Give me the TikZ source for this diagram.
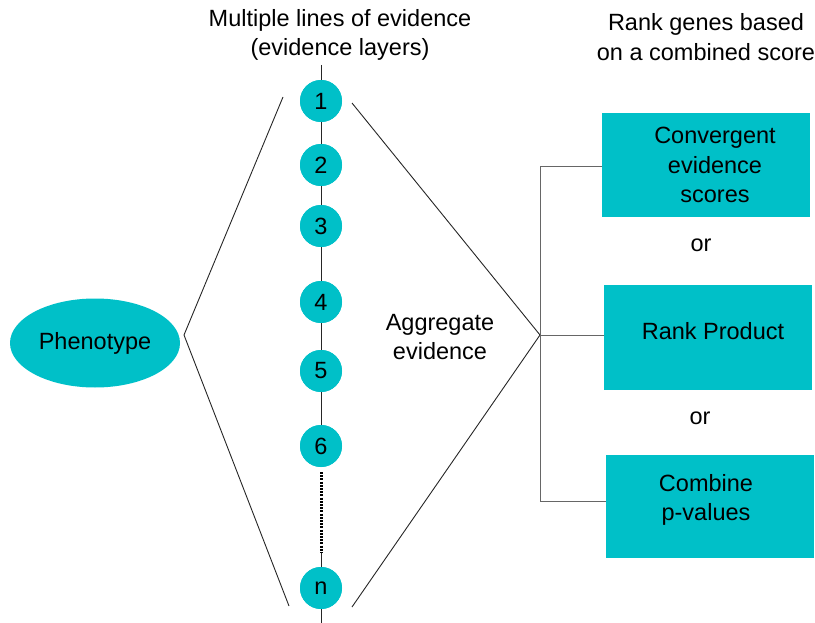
\documentclass[tikz,border=0pt]{standalone}
\usepackage{fontspec}
\setmainfont{Liberation Sans}
\usetikzlibrary{shapes.geometric}
\definecolor{teal1}{HTML}{00C0C8}
\begin{document}
\begin{tikzpicture}[x=1pt,y=-1pt,
  txt/.style={font=\fontsize{23.5}{29.5}\selectfont, align=center, inner sep=0pt},
  layer/.style={circle, fill=teal1, minimum size=42pt, inner sep=0pt, font=\fontsize{23.5}{28}\selectfont},
  method/.style={rectangle, fill=teal1, inner sep=0pt},
  ln/.style={draw=black!85, line width=0.9pt},
  br/.style={draw=black!60, line width=1pt},
  dots/.style={draw=black, line width=3pt, dash pattern=on 2pt off 1.2pt}]
\useasboundingbox (0,0) rectangle (815,623);
% headings
\node[txt] (h1) at (340,35) {Multiple lines of evidence\\(evidence layers)};
\node[txt] (h2) at (706,37) {Rank genes based\\on a combined score};
% spine
\coordinate (top) at (321,65);
\coordinate (bot) at (321,623);
\node[layer] (c1) at (321,101) {1};
\node[layer] (c2) at (321,165) {2};
\node[layer] (c3) at (321,226) {3};
\node[layer] (c4) at (321,302) {4};
\node[layer] (c5) at (321,371) {5};
\node[layer] (c6) at (321,446) {6};
\node[layer] (cn) at (321,588) {n};
\coordinate (d1) at (321,472);
\coordinate (d2) at (321,553);
\draw[ln] (top) -- (c1) (c1) -- (c2) (c2) -- (c3) (c3) -- (c4) (c4) -- (c5) (c5) -- (c6);
\draw[ln] (d2) -- (cn) (cn) -- (bot);
\draw[dots] (d1) -- (d2);
% redraw circles over lines
\node[layer] at (321,101) {1};
\node[layer] at (321,165) {2};
\node[layer] at (321,226) {3};
\node[layer] at (321,302) {4};
\node[layer] at (321,371) {5};
\node[layer] at (321,446) {6};
\node[layer] at (321,588) {n};
% phenotype
\node[ellipse, fill=teal1, minimum width=170pt, minimum height=89pt, inner sep=0pt, font=\fontsize{23.5}{28}\selectfont] (ph) at (95,343) {Phenotype};
% left wedge
\coordinate (la) at (184,335);
\coordinate (lt) at (283,97);
\coordinate (lb) at (289,606);
\draw[ln] (lt) -- (la) -- (lb);
% right wedge
\coordinate (ra) at (540,335);
\coordinate (rt) at (352,103);
\coordinate (rb) at (352,607);
\draw[ln] (rt) -- (ra) -- (rb);
\node[txt] (agg) at (440,337) {Aggregate\\evidence};
% method boxes
\node[method, minimum width=208pt, minimum height=104pt] (b1) at (706,165) {};
\node[txt] at (715,165) {Convergent\\evidence\\scores};
\node[method, minimum width=208pt, minimum height=105pt] (b2) at (708,337.5) {};
\node[txt] at (713,331) {Rank Product};
\node[method, minimum width=208pt, minimum height=103pt] (b3) at (710,506) {};
\node[txt] at (706,500) {Combine\\p-values};
\node[txt] (or1) at (701,245) {or};
\node[txt] (or2) at (700,418) {or};
% bracket
\coordinate (bt) at (540,167);
\coordinate (bb) at (540,501);
\draw[br] (b1.west |- bt) -- (bt) -- (bb) -- (b3.west |- bb);
\draw[br] (ra) -- (b2.west |- ra);
\end{tikzpicture}
\end{document}
